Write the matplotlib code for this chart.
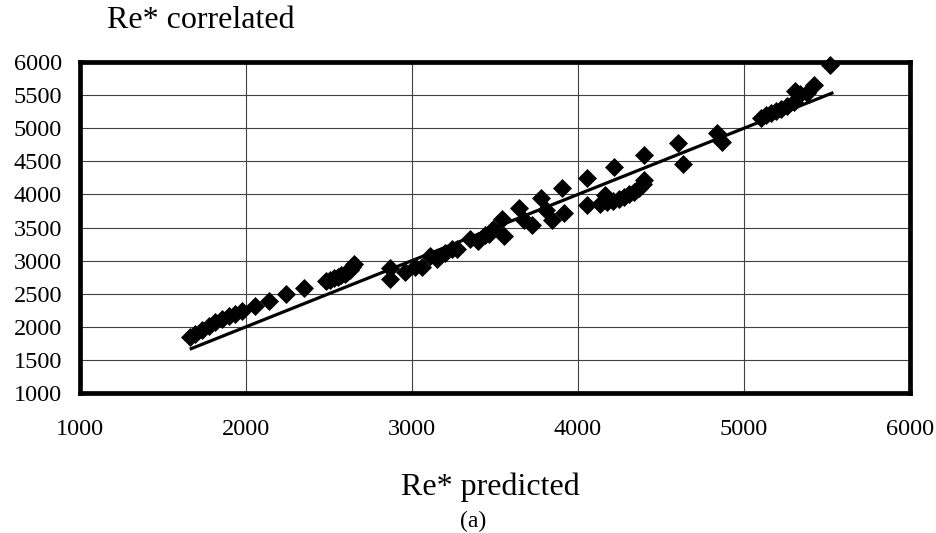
import numpy as np
import matplotlib.pyplot as plt

# Re* predicted vs correlated
re_pred = [1665, 1695, 1735, 1775, 1815, 1855, 1895, 1935, 1975, 2055, 2140, 2240, 2350, 2480,
           2505, 2530, 2555, 2575, 2595, 2610, 2625, 2640, 2650,
           2865, 2870, 2960, 3020, 3060, 3110, 3150, 3200, 3240, 3270, 3350, 3400, 3440, 3465,
           3490, 3540, 3555,
           3645, 3675, 3725, 3775, 3805, 3845, 3905, 3915, 4055, 4055, 4130, 4160, 4175, 4215,
           4210, 4250, 4280, 4310, 4340, 4370, 4390, 4400, 4400,
           4600, 4635, 4835, 4870,
           5100, 5130, 5160, 5190, 5220, 5260, 5300, 5310, 5340, 5380, 5420, 5520]
re_corr = [1840, 1890, 1950, 2005, 2065, 2115, 2160, 2195, 2240, 2310, 2390, 2490, 2580, 2690,
           2710, 2730, 2750, 2775, 2800, 2830, 2860, 2900, 2950,
           2885, 2725, 2825, 2910, 2900, 3070, 3030, 3120, 3170, 3170, 3320, 3300, 3390, 3400,
           3470, 3630, 3365,
           3790, 3615, 3540, 3940, 3765, 3615, 4090, 3715, 4255, 3840, 3850, 3990, 3880, 4415,
           3900, 3930, 3960, 4000, 4040, 4090, 4150, 4220, 4600,
           4770, 4455, 4925, 4790,
           5160, 5200, 5235, 5260, 5285, 5335, 5395, 5560, 5510, 5535, 5660, 5950]

# linea de igualdad
linea = [1670, 5530]

plt.rcParams['font.family'] = ['Liberation Serif', 'DejaVu Serif']

fig = plt.figure(figsize=(9.37, 5.33), dpi=100)
ax = fig.add_axes([80/937, 1-393/533, 830/937, 331/533])

ax.plot(re_pred, re_corr, 'D', color='black', markersize=9.3, markeredgewidth=0.5, zorder=3,
        clip_on=False)
ax.plot(linea, linea, color='black', linewidth=2.3, zorder=2)

ax.set_xlim(1000, 6000)
ax.set_ylim(1000, 6000)
ax.set_xticks(np.arange(1000, 6001, 1000))
ax.set_yticks(np.arange(1000, 6001, 500))
ax.grid(True, color='#404040', linewidth=0.8)
ax.set_axisbelow(True)
ax.tick_params(axis='x', length=0, pad=19, labelsize=17.5)
ax.tick_params(axis='y', length=0, pad=13, labelsize=17.5)
for s in ax.spines.values():
    s.set_linewidth(3.4)
    s.set_color('black')
    s.set_zorder(4)

fig.text(201/937, 1-20/533, 'Re* correlated', fontsize=23, ha='center', va='center')
fig.text(490/937, 1-487/533, 'Re* predicted', fontsize=23, ha='center', va='center')
fig.text(473/937, 1-521/533, '(a)', fontsize=17, ha='center', va='center')

fig.savefig('out.png', dpi=100)
